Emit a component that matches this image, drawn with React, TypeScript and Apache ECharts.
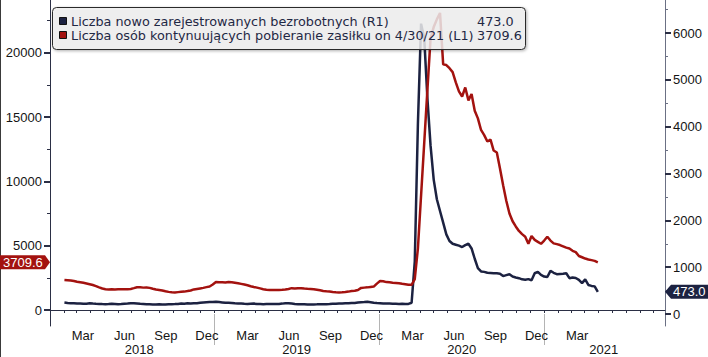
import React, { useEffect, useRef } from "react";
import * as echarts from "echarts";

// Weekly observations (Fridays), first week 2018-02-02, last 2021-04-30
const firstWeek = Date.UTC(2018, 1, 2);
const WEEK_MS = 7 * 86400000;

// Initial claims, thousands (right axis, R1)
const initialClaims = [
  245, 235, 230, 228, 222, 225, 218, 220, 228, 222,
  218, 215, 212, 210, 212, 218, 215, 210, 212, 218,
  222, 228, 232, 226, 218, 214, 210, 208, 205, 203,
  207, 205, 203, 207, 210, 212, 215, 222, 220, 228,
  226, 232, 230, 240, 248, 252, 256, 258, 264, 256,
  248, 240, 238, 234, 228, 226, 222, 218, 215, 220,
  222, 215, 213, 211, 213, 215, 215, 213, 215, 222,
  232, 228, 222, 215, 211, 210, 208, 205, 203, 205,
  207, 210, 207, 210, 213, 218, 220, 224, 222, 228,
  230, 236, 234, 244, 250, 256, 262, 252, 242, 234,
  232, 226, 224, 222, 220, 218, 215, 218, 215, 215,
  240, 1120, 4070, 6200, 5890, 4610, 3600, 2870, 2450, 2200,
  1950, 1700, 1560, 1500, 1480, 1460, 1430, 1470, 1500, 1400,
  1180, 980, 910, 900, 880, 875, 870, 868, 860, 810,
  830, 850, 800, 780, 765, 740, 730, 745, 720, 870,
  900, 835, 800, 790, 920, 880, 850, 855, 860, 870,
  765, 780, 770, 730, 660, 740, 620, 600, 590, 473.0,
];

// Continuing claims, thousands (left axis, L1)
const continuingClaims = [
  2330, 2310, 2290, 2250, 2200, 2160, 2120, 2060, 2000, 1940,
  1860, 1760, 1670, 1610, 1600, 1610, 1600, 1610, 1620, 1610,
  1620, 1640, 1700, 1770, 1760, 1740, 1750, 1720, 1650, 1590,
  1560, 1520, 1460, 1410, 1380, 1370, 1390, 1410, 1430, 1470,
  1520, 1600, 1640, 1680, 1720, 1780, 1830, 1980, 2170, 2160,
  2150, 2140, 2180, 2160, 2120, 2080, 2030, 1980, 1920, 1850,
  1790, 1740, 1680, 1620, 1580, 1560, 1550, 1550, 1560, 1570,
  1590, 1640, 1700, 1680, 1690, 1700, 1670, 1650, 1640, 1620,
  1580, 1530, 1480, 1450, 1430, 1400, 1380, 1370, 1380, 1400,
  1430, 1470, 1500, 1560, 1720, 1740, 1760, 1790, 1820, 2050,
  2250, 2230, 2170, 2150, 2120, 2100, 2080, 2040, 2010, 1960,
  1960, 2400, 4800, 8900, 13000, 17100, 21100, 22000, 22600, 23100,
  19100, 19050, 18800, 18500, 17700, 17000, 16600, 17300, 16300, 16800,
  15500, 14900, 14000, 13600, 13100, 13250, 12400, 12250, 11000, 9700,
  8500, 7500, 6900, 6500, 6150, 5900, 5700, 5150, 5750, 5450,
  5300, 5150, 5400, 5700, 5400, 5180, 5120, 5050, 4950, 4850,
  4780, 4600, 4500, 4200, 4100, 4000, 3930, 3880, 3820, 3709.6,
];

const weekDates = initialClaims.map((_, i) => firstWeek + i * WEEK_MS);

const leftTicks = [0, 5000, 10000, 15000, 20000];
const leftMinorTicks = [2500, 7500, 12500, 17500, 22500];
const rightTicks = [0, 1000, 2000, 3000, 4000, 5000, 6000];
const rightMinorTicks = [500, 1500, 2500, 3500, 4500, 5500, 6500];

const monthNames = ["Jan", "Feb", "Mar", "Apr", "May", "Jun", "Jul", "Aug", "Sep", "Oct", "Nov", "Dec"];
const labelledMonths: [number, number][] = [
  [2018, 2], [2018, 5], [2018, 8], [2018, 11],
  [2019, 2], [2019, 5], [2019, 8], [2019, 11],
  [2020, 2], [2020, 5], [2020, 8], [2020, 11],
  [2021, 2],
];
const yearSeparators = [2019, 2020, 2021];
const yearLabelDates = [
  Date.UTC(2018, 6, 18),
  Date.UTC(2019, 6, 2),
  Date.UTC(2020, 6, 2),
  Date.UTC(2021, 4, 13),
];

const legendNames = [
  "Liczba nowo zarejestrowanych bezrobotnych (R1)",
  "Liczba osób kontynuujących pobieranie zasiłku on 4/30/21 (L1)",
];
const legendValues = ["473.0", "3709.6"];

const X_MIN = Date.UTC(2018, 0, 1);
const X_MAX = Date.UTC(2021, 8, 26);

const NAVY = "#1c2241";
const RED = "#a3120f";
const FONT = "Liberation Sans";
const LEGEND_FONT = "DejaVu Sans";

export default function App() {
  const ref = useRef<HTMLDivElement>(null);

  useEffect(() => {
    const el = ref.current;
    if (!el) return;
    const chart = echarts.init(el, null, { renderer: "svg" });

    const monthTicks: number[] = [];
    for (let y = 2018; y <= 2021; y++) {
      for (let m = 0; m < 12; m++) {
        const t = Date.UTC(y, m, 1);
        if (t > X_MIN && t < X_MAX) monthTicks.push(t);
      }
    }
    const monthLabelValues = labelledMonths.map(([y, m]) => Date.UTC(y, m, 15));
    const yearSepValues = yearSeparators.map((y) => Date.UTC(y, 0, 1));

    const blueData = weekDates.map((d, i) => [d, initialClaims[i]]);
    const redData = weekDates.map((d, i) => [d, continuingClaims[i]]);

    const labelStyle = { fontFamily: FONT, fontSize: 13, color: "#151515" };
    const plain = (v: number) => String(v);

    chart.setOption({
      animation: false,
      backgroundColor: "#ffffff",
      grid: { left: 50, right: 43, top: 0, bottom: 31, containLabel: false },
      xAxis: [
        {
          type: "value",
          min: X_MIN,
          max: X_MAX,
          position: "bottom",
          axisLine: { show: true, lineStyle: { color: "#2b2f45", width: 1 } },
          axisTick: { show: true, customValues: monthTicks, length: 3, lineStyle: { color: "#2b2f45" } },
          axisLabel: {
            show: true,
            customValues: monthLabelValues,
            formatter: (v: number) => monthNames[new Date(v).getUTCMonth()],
            margin: 3,
            ...labelStyle,
          },
          splitLine: { show: false },
        },
        {
          type: "value",
          min: X_MIN,
          max: X_MAX,
          position: "bottom",
          axisLine: { show: false },
          axisTick: { show: true, customValues: yearSepValues, length: 31, lineStyle: { color: "#b4b4b4", width: 1 } },
          axisLabel: {
            show: true,
            customValues: yearLabelDates,
            formatter: (v: number) => String(new Date(v).getUTCFullYear()),
            margin: 17,
            ...labelStyle,
          },
          splitLine: { show: false },
        },
      ],
      yAxis: [
        {
          type: "value",
          position: "left",
          min: -1244,
          max: 24106,
          axisLine: { show: true, lineStyle: { color: "#2b2f45", width: 1 } },
          axisTick: { show: true, customValues: leftTicks, length: 6, lineStyle: { color: "#2b2f45", width: 2 } },
          axisLabel: { show: true, customValues: leftTicks, margin: 8, formatter: plain, ...labelStyle },
          splitLine: { show: false },
        },
        {
          type: "value",
          position: "right",
          min: -256,
          max: 6705,
          axisLine: { show: true, lineStyle: { color: "#6b7084", width: 1 } },
          axisTick: { show: true, customValues: rightTicks, length: 6, lineStyle: { color: "#2b2f45", width: 2 } },
          axisLabel: { show: true, customValues: rightTicks, margin: 8, formatter: plain, ...labelStyle },
          splitLine: { show: false },
        },
        {
          type: "value",
          position: "left",
          min: -1244,
          max: 24106,
          axisLine: { show: false },
          axisTick: { show: true, customValues: leftMinorTicks, length: 3, lineStyle: { color: "#2b2f45" } },
          axisLabel: { show: false },
          splitLine: { show: false },
        },
        {
          type: "value",
          position: "right",
          min: -256,
          max: 6705,
          axisLine: { show: false },
          axisTick: { show: true, customValues: rightMinorTicks, length: 3, lineStyle: { color: "#6b7084" } },
          axisLabel: { show: false },
          splitLine: { show: false },
        },
      ],
      series: [
        {
          name: legendNames[0],
          type: "line",
          xAxisIndex: 0,
          yAxisIndex: 1,
          data: blueData,
          showSymbol: false,
          symbol: "none",
          lineStyle: { color: NAVY, width: 2.5 },
          z: 3,
        },
        {
          name: legendNames[1],
          type: "line",
          xAxisIndex: 0,
          yAxisIndex: 0,
          data: redData,
          showSymbol: false,
          symbol: "none",
          lineStyle: { color: RED, width: 2.5 },
          z: 4,
        },
      ],
    });

    const lastIdx = weekDates.length - 1;
    const redPt = chart.convertToPixel({ seriesIndex: 1 }, [weekDates[lastIdx], continuingClaims[lastIdx]]) as number[];
    const bluePt = chart.convertToPixel({ seriesIndex: 0 }, [weekDates[lastIdx], initialClaims[lastIdx]]) as number[];
    const yR = redPt[1];
    const yB = bluePt[1];

    const legendText = (text: string, x: number, y: number) => ({
      type: "text",
      x,
      y,
      z: 101,
      style: { text, fill: "#1f2844", fontFamily: LEGEND_FONT, fontSize: 12.8, verticalAlign: "middle" },
    });

    chart.setOption({
      graphic: [
        {
          type: "line",
          shape: { x1: 0.5, y1: 0, x2: 0.5, y2: 357 },
          style: { stroke: "#3a3a3a", lineWidth: 1 },
          z: 100,
        },
        {
          type: "rect",
          shape: { x: 52.5, y: 7.5, width: 473, height: 42, r: 4 },
          style: {
            fill: "rgba(243,243,243,0.8)",
            stroke: "#2a2a2a",
            lineWidth: 1,
            shadowBlur: 3,
            shadowOffsetX: 1,
            shadowOffsetY: 1,
            shadowColor: "rgba(0,0,0,0.35)",
          },
          z: 100,
        },
        {
          type: "rect",
          shape: { x: 59.5, y: 17.5, width: 7, height: 7 },
          style: { fill: NAVY, stroke: "#111", lineWidth: 1 },
          z: 101,
        },
        {
          type: "rect",
          shape: { x: 59.5, y: 31.5, width: 7, height: 7 },
          style: { fill: RED, stroke: "#111", lineWidth: 1 },
          z: 101,
        },
        legendText(legendNames[0], 71, 21.5),
        legendText(legendNames[1], 71, 35.5),
        legendText(legendValues[0], 477, 21.5),
        legendText(legendValues[1], 477, 35.5),
        {
          type: "polygon",
          shape: { points: [[0, yR - 7], [45, yR - 7], [50, yR], [45, yR + 7], [0, yR + 7]] },
          style: { fill: RED },
          z: 102,
        },
        {
          type: "text",
          x: 3,
          y: yR,
          z: 103,
          style: { text: legendValues[1], fill: "#ffffff", fontFamily: FONT, fontSize: 13, verticalAlign: "middle" },
        },
        {
          type: "polygon",
          shape: { points: [[665, yB], [671, yB - 7], [708, yB - 7], [708, yB + 7], [671, yB + 7]] },
          style: { fill: NAVY },
          z: 102,
        },
        {
          type: "text",
          x: 673,
          y: yB,
          z: 103,
          style: { text: legendValues[0], fill: "#ffffff", fontFamily: FONT, fontSize: 13, verticalAlign: "middle" },
        },
      ],
    });

    return () => chart.dispose();
  }, []);

  return (
    <div
      ref={ref}
      style={{ position: "fixed", left: 0, top: 0, width: 708, height: 357 }}
    />
  );
}
